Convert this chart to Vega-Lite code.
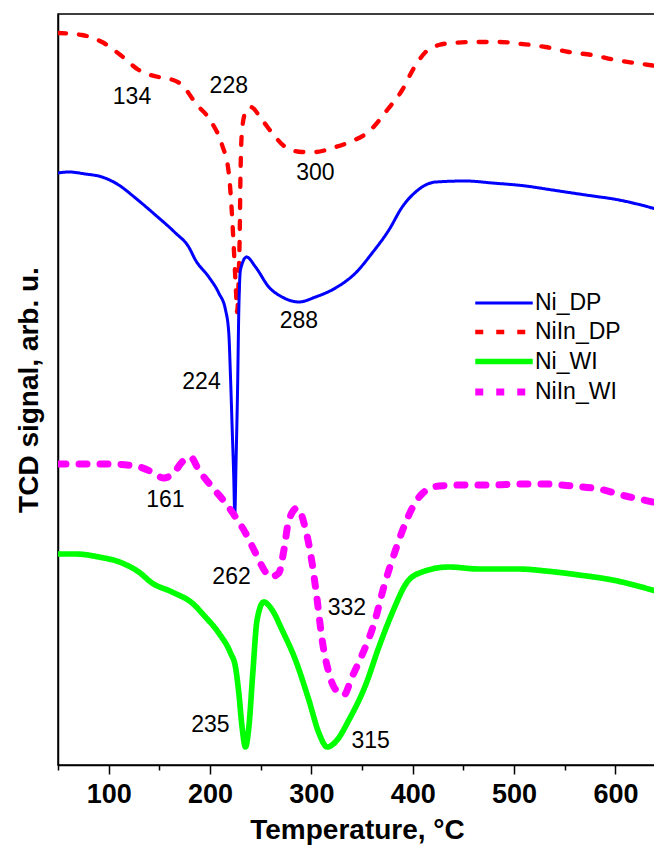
{
  "$schema": "https://vega.github.io/schema/vega-lite/v6.json",
  "width": 598,
  "height": 751,
  "autosize": "none",
  "padding": {"left": 58, "top": 14, "right": 0, "bottom": 80},
  "background": "white",
  "config": {
    "view": {"stroke": "black", "strokeWidth": 1.5},
    "font": "Liberation Sans"
  },
  "datasets": {
    "curves": [
      {"s": "NiIn_DP", "t": 50, "v": 732}, {"s": "NiIn_DP", "t": 73.7, "v": 730}, {"s": "NiIn_DP", "t": 93.4, "v": 723}, {"s": "NiIn_DP", "t": 111.6, "v": 710}, {"s": "NiIn_DP", "t": 129.7, "v": 695}, {"s": "NiIn_DP", "t": 149.4, "v": 688}, {"s": "NiIn_DP", "t": 156, "v": 687}, {"s": "NiIn_DP", "t": 172.4, "v": 680}, {"s": "NiIn_DP", "t": 185.6, "v": 662}, {"s": "NiIn_DP", "t": 202, "v": 642}, {"s": "NiIn_DP", "t": 211.9, "v": 620}, {"s": "NiIn_DP", "t": 218.5, "v": 592}, {"s": "NiIn_DP", "t": 221.2, "v": 558}, {"s": "NiIn_DP", "t": 223.4, "v": 518}, {"s": "NiIn_DP", "t": 225.7, "v": 472}, {"s": "NiIn_DP", "t": 226.7, "v": 453}, {"s": "NiIn_DP", "t": 228.4, "v": 492}, {"s": "NiIn_DP", "t": 229.4, "v": 538}, {"s": "NiIn_DP", "t": 230, "v": 588}, {"s": "NiIn_DP", "t": 231.6, "v": 635}, {"s": "NiIn_DP", "t": 235, "v": 653}, {"s": "NiIn_DP", "t": 240, "v": 658}, {"s": "NiIn_DP", "t": 251.4, "v": 645}, {"s": "NiIn_DP", "t": 261.3, "v": 632}, {"s": "NiIn_DP", "t": 274.5, "v": 618}, {"s": "NiIn_DP", "t": 290.9, "v": 613}, {"s": "NiIn_DP", "t": 304.1, "v": 613}, {"s": "NiIn_DP", "t": 320.5, "v": 617}, {"s": "NiIn_DP", "t": 335.3, "v": 622}, {"s": "NiIn_DP", "t": 358.4, "v": 635}, {"s": "NiIn_DP", "t": 374.8, "v": 655}, {"s": "NiIn_DP", "t": 389.6, "v": 675}, {"s": "NiIn_DP", "t": 401.1, "v": 697}, {"s": "NiIn_DP", "t": 412.7, "v": 713}, {"s": "NiIn_DP", "t": 425.8, "v": 720}, {"s": "NiIn_DP", "t": 438.9, "v": 722}, {"s": "NiIn_DP", "t": 462, "v": 723}, {"s": "NiIn_DP", "t": 485, "v": 723}, {"s": "NiIn_DP", "t": 508, "v": 721}, {"s": "NiIn_DP", "t": 531, "v": 718}, {"s": "NiIn_DP", "t": 554, "v": 713}, {"s": "NiIn_DP", "t": 577, "v": 710}, {"s": "NiIn_DP", "t": 600, "v": 705}, {"s": "NiIn_DP", "t": 626.5, "v": 701}, {"s": "NiIn_DP", "t": 640, "v": 699},

      {"s": "Ni_DP", "t": 50, "v": 592}, {"s": "Ni_DP", "t": 60.6, "v": 593}, {"s": "Ni_DP", "t": 77, "v": 591}, {"s": "Ni_DP", "t": 93.4, "v": 588}, {"s": "Ni_DP", "t": 109.9, "v": 580}, {"s": "Ni_DP", "t": 126.4, "v": 567}, {"s": "Ni_DP", "t": 146.1, "v": 550}, {"s": "Ni_DP", "t": 165.9, "v": 532}, {"s": "Ni_DP", "t": 179, "v": 518}, {"s": "Ni_DP", "t": 185.6, "v": 505}, {"s": "Ni_DP", "t": 198.8, "v": 488}, {"s": "Ni_DP", "t": 208.6, "v": 472}, {"s": "Ni_DP", "t": 215.3, "v": 455}, {"s": "Ni_DP", "t": 218.5, "v": 432}, {"s": "Ni_DP", "t": 220.2, "v": 388}, {"s": "Ni_DP", "t": 221.8, "v": 338}, {"s": "Ni_DP", "t": 223.4, "v": 288}, {"s": "Ni_DP", "t": 224.4, "v": 250}, {"s": "Ni_DP", "t": 225.7, "v": 305}, {"s": "Ni_DP", "t": 227.1, "v": 372}, {"s": "Ni_DP", "t": 228.4, "v": 455}, {"s": "Ni_DP", "t": 230, "v": 495}, {"s": "Ni_DP", "t": 236, "v": 508}, {"s": "Ni_DP", "t": 244.9, "v": 498}, {"s": "Ni_DP", "t": 258, "v": 478}, {"s": "Ni_DP", "t": 271.1, "v": 468}, {"s": "Ni_DP", "t": 287.6, "v": 463}, {"s": "Ni_DP", "t": 304.1, "v": 468}, {"s": "Ni_DP", "t": 323.8, "v": 477}, {"s": "Ni_DP", "t": 343.6, "v": 492}, {"s": "Ni_DP", "t": 360, "v": 512}, {"s": "Ni_DP", "t": 376.5, "v": 535}, {"s": "Ni_DP", "t": 389.6, "v": 558}, {"s": "Ni_DP", "t": 402.8, "v": 573}, {"s": "Ni_DP", "t": 422.6, "v": 583}, {"s": "Ni_DP", "t": 452.2, "v": 584}, {"s": "Ni_DP", "t": 478.4, "v": 582}, {"s": "Ni_DP", "t": 511.4, "v": 579}, {"s": "Ni_DP", "t": 537.7, "v": 575}, {"s": "Ni_DP", "t": 570.6, "v": 570}, {"s": "Ni_DP", "t": 603.5, "v": 565}, {"s": "Ni_DP", "t": 636.4, "v": 557}, {"s": "Ni_DP", "t": 640, "v": 556},

      {"s": "NiIn_WI", "t": 50, "v": 301}, {"s": "NiIn_WI", "t": 73.7, "v": 301}, {"s": "NiIn_WI", "t": 100, "v": 301}, {"s": "NiIn_WI", "t": 126.4, "v": 299}, {"s": "NiIn_WI", "t": 142.8, "v": 293}, {"s": "NiIn_WI", "t": 154.3, "v": 287}, {"s": "NiIn_WI", "t": 164.2, "v": 292}, {"s": "NiIn_WI", "t": 172.4, "v": 303}, {"s": "NiIn_WI", "t": 180.7, "v": 308}, {"s": "NiIn_WI", "t": 188.9, "v": 295}, {"s": "NiIn_WI", "t": 202, "v": 278}, {"s": "NiIn_WI", "t": 215.3, "v": 262}, {"s": "NiIn_WI", "t": 225.1, "v": 248}, {"s": "NiIn_WI", "t": 235, "v": 232}, {"s": "NiIn_WI", "t": 244.9, "v": 212}, {"s": "NiIn_WI", "t": 254.7, "v": 193}, {"s": "NiIn_WI", "t": 259.7, "v": 188}, {"s": "NiIn_WI", "t": 267.9, "v": 192}, {"s": "NiIn_WI", "t": 272.9, "v": 215}, {"s": "NiIn_WI", "t": 277.8, "v": 245}, {"s": "NiIn_WI", "t": 286.1, "v": 257}, {"s": "NiIn_WI", "t": 294.4, "v": 235}, {"s": "NiIn_WI", "t": 300.7, "v": 202}, {"s": "NiIn_WI", "t": 305.7, "v": 165}, {"s": "NiIn_WI", "t": 310.6, "v": 125}, {"s": "NiIn_WI", "t": 317.3, "v": 92}, {"s": "NiIn_WI", "t": 322.2, "v": 78}, {"s": "NiIn_WI", "t": 332, "v": 70}, {"s": "NiIn_WI", "t": 340, "v": 88}, {"s": "NiIn_WI", "t": 350, "v": 110}, {"s": "NiIn_WI", "t": 362, "v": 142}, {"s": "NiIn_WI", "t": 372, "v": 180}, {"s": "NiIn_WI", "t": 383, "v": 215}, {"s": "NiIn_WI", "t": 392, "v": 240}, {"s": "NiIn_WI", "t": 400, "v": 258}, {"s": "NiIn_WI", "t": 410, "v": 272}, {"s": "NiIn_WI", "t": 425.8, "v": 279}, {"s": "NiIn_WI", "t": 452.2, "v": 280}, {"s": "NiIn_WI", "t": 478.4, "v": 280}, {"s": "NiIn_WI", "t": 504.8, "v": 281}, {"s": "NiIn_WI", "t": 531.1, "v": 281}, {"s": "NiIn_WI", "t": 557.4, "v": 279}, {"s": "NiIn_WI", "t": 583.8, "v": 276}, {"s": "NiIn_WI", "t": 610.1, "v": 269}, {"s": "NiIn_WI", "t": 636.4, "v": 263}, {"s": "NiIn_WI", "t": 640, "v": 262},

      {"s": "Ni_WI", "t": 50, "v": 211}, {"s": "Ni_WI", "t": 67.2, "v": 211}, {"s": "Ni_WI", "t": 90.2, "v": 208}, {"s": "Ni_WI", "t": 113.2, "v": 202}, {"s": "Ni_WI", "t": 129.7, "v": 193}, {"s": "Ni_WI", "t": 142.8, "v": 182}, {"s": "Ni_WI", "t": 162.5, "v": 173}, {"s": "Ni_WI", "t": 182.3, "v": 162}, {"s": "Ni_WI", "t": 195.5, "v": 148}, {"s": "Ni_WI", "t": 208.6, "v": 132}, {"s": "Ni_WI", "t": 220.2, "v": 112}, {"s": "Ni_WI", "t": 225.1, "v": 98}, {"s": "Ni_WI", "t": 228.4, "v": 72}, {"s": "Ni_WI", "t": 231.6, "v": 38}, {"s": "Ni_WI", "t": 235, "v": 18}, {"s": "Ni_WI", "t": 238.3, "v": 38}, {"s": "Ni_WI", "t": 242.2, "v": 92}, {"s": "Ni_WI", "t": 246.4, "v": 145}, {"s": "Ni_WI", "t": 253, "v": 163}, {"s": "Ni_WI", "t": 261.3, "v": 155}, {"s": "Ni_WI", "t": 271.1, "v": 135}, {"s": "Ni_WI", "t": 284.3, "v": 105}, {"s": "Ni_WI", "t": 297.5, "v": 65}, {"s": "Ni_WI", "t": 307.4, "v": 32}, {"s": "Ni_WI", "t": 315.6, "v": 18}, {"s": "Ni_WI", "t": 325.4, "v": 25}, {"s": "Ni_WI", "t": 337, "v": 45}, {"s": "Ni_WI", "t": 353.5, "v": 80}, {"s": "Ni_WI", "t": 366.6, "v": 118}, {"s": "Ni_WI", "t": 379.7, "v": 152}, {"s": "Ni_WI", "t": 394.5, "v": 183}, {"s": "Ni_WI", "t": 409.3, "v": 193}, {"s": "Ni_WI", "t": 435.7, "v": 198}, {"s": "Ni_WI", "t": 465.3, "v": 196}, {"s": "Ni_WI", "t": 504.8, "v": 196}, {"s": "Ni_WI", "t": 531.1, "v": 194}, {"s": "Ni_WI", "t": 564, "v": 190}, {"s": "Ni_WI", "t": 597, "v": 185}, {"s": "Ni_WI", "t": 636.4, "v": 175}, {"s": "Ni_WI", "t": 640, "v": 174}
    ],
    "labels": [
      {"label": "134", "t": 123, "v": 668},
      {"label": "228", "t": 218.5, "v": 679},
      {"label": "300", "t": 304, "v": 592},
      {"label": "288", "t": 287.6, "v": 444},
      {"label": "224", "t": 191.6, "v": 383},
      {"label": "161", "t": 156, "v": 265},
      {"label": "262", "t": 221.2, "v": 188},
      {"label": "332", "t": 335, "v": 157},
      {"label": "235", "t": 200.4, "v": 40},
      {"label": "315", "t": 358.4, "v": 24}
    ]
  },
  "layer": [
    {
      "data": {"name": "curves"},
      "mark": {"type": "line", "interpolate": "monotone", "strokeCap": "round", "strokeJoin": "round", "clip": true},
      "encoding": {
        "x": {
          "field": "t", "type": "quantitative",
          "scale": {"domain": [50, 640], "nice": false, "zero": false},
          "axis": {
            "values": [50, 100, 150, 200, 250, 300, 350, 400, 450, 500, 550, 600],
            "labelExpr": "datum.value % 100 === 0 ? datum.label : ''",
            "title": "Temperature, °C",
            "titleFont": "Liberation Sans", "titleFontSize": 28, "titleFontWeight": "bold", "titleColor": "black", "titlePadding": 9,
            "labelFont": "Liberation Sans", "labelFontSize": 27, "labelFontWeight": "bold", "labelColor": "black", "labelPadding": 7,
            "grid": false, "domainColor": "black", "domainWidth": 1.5, "tickColor": "black", "tickWidth": 1.5,
            "tickSize": {"condition": {"test": "datum.value % 100 === 0", "value": 9}, "value": 5}
          }
        },
        "y": {
          "field": "v", "type": "quantitative",
          "scale": {"domain": [0, 751], "nice": false, "zero": false},
          "axis": {
            "title": "TCD signal, arb. u.", "labels": false, "ticks": false, "grid": false,
            "titleFont": "Liberation Sans", "titleFontSize": 28, "titleFontWeight": "bold", "titleColor": "black", "titlePadding": 15,
            "domainColor": "black", "domainWidth": 1.5
          }
        },
        "color": {
          "field": "s", "type": "nominal", "title": null,
          "scale": {"domain": ["Ni_DP", "NiIn_DP", "Ni_WI", "NiIn_WI"], "range": ["#0000FF", "#FF0000", "#00FF00", "#FF00FF"]},
          "legend": {
            "orient": "none", "legendX": 431, "legendY": 276,
            "symbolType": "M-2.5,0H2.5", "symbolSize": 529, "symbolStrokeWidth": 4, "symbolFillColor": "transparent",
            "labelFont": "Liberation Sans", "labelFontSize": 23, "labelColor": "black", "labelOffset": 16,
            "rowPadding": 3, "padding": 0
          }
        },
        "strokeDash": {
          "field": "s", "type": "nominal", "title": null,
          "scale": {"domain": ["Ni_DP", "NiIn_DP", "Ni_WI", "NiIn_WI"], "range": [[1, 0], [8, 13], [1, 0], [8, 13]]}
        },
        "strokeWidth": {
          "field": "s", "type": "nominal", "title": null,
          "scale": {"domain": ["Ni_DP", "NiIn_DP", "Ni_WI", "NiIn_WI"], "range": [3, 7, 3, 7]}
        },
        "detail": {"field": "s"}
      }
    },
    {
      "data": {"name": "labels"},
      "mark": {"type": "text", "font": "Liberation Sans", "fontSize": 23, "color": "black", "align": "center", "baseline": "middle"},
      "encoding": {
        "x": {"field": "t", "type": "quantitative"},
        "y": {"field": "v", "type": "quantitative"},
        "text": {"field": "label"}
      }
    }
  ]
}
